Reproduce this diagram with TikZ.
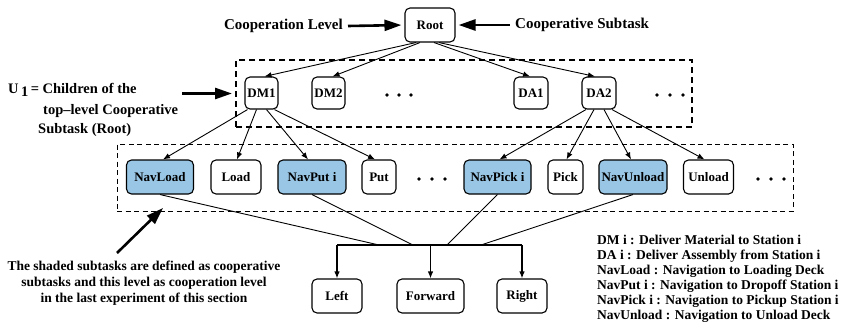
\documentclass[tikz,border=0pt]{standalone}
\usepackage{fontspec}
\setmainfont{Liberation Serif}
\usetikzlibrary{arrows.meta}
\definecolor{coopblue}{RGB}{152,198,228}
\begin{document}
\begin{tikzpicture}[x=1pt,y=-1pt,
  task/.style={draw, line width=1.1pt, rounded corners=5pt, minimum height=33pt, inner sep=0pt,
    font=\fontsize{13}{13}\selectfont\bfseries},
  coop/.style={task, fill=coopblue},
  edge/.style={line width=0.9pt, -{Latex[length=7pt,width=5.5pt]}},
  plain/.style={line width=0.9pt},
  bigarrow/.style={line width=2.6pt, -{Triangle[length=17pt,width=11pt]}},
  lbl/.style={inner sep=0pt, font=\fontsize{15}{15}\selectfont\bfseries},
  note/.style={inner sep=0pt, font=\fontsize{13.5}{15}\selectfont\bfseries},
  dot/.style={fill=black}
]
\useasboundingbox (0,0) rectangle (843,327);

% group boxes
\node (upbox) [draw, line width=2pt, dash pattern=on 6pt off 4pt, minimum width=456pt, minimum height=67pt, inner sep=0pt] at (464,93.5) {};
\node (lowbox) [draw, line width=1pt, dash pattern=on 5pt off 3.5pt, minimum width=676pt, minimum height=67pt, inner sep=0pt] at (455,177.5) {};

% nodes
\node (Root) [task, minimum width=50pt, minimum height=34pt] at (430,25) {Root};
\node (DM1) [task, minimum width=33pt, minimum height=32pt] at (261.5,93) {DM1};
\node (DM2) [task, minimum width=33pt, minimum height=32pt] at (328.5,93) {DM2};
\node (DA1) [task, minimum width=34pt, minimum height=32pt] at (531,93) {DA1};
\node (DA2) [task, minimum width=34pt, minimum height=32pt] at (599,93) {DA2};

\node (NavLoad) [coop, minimum width=67pt, minimum height=34pt] at (160,177) {NavLoad};
\node (Load) [task, minimum width=50pt, minimum height=34pt] at (236,177) {Load};
\node (NavPut) [coop, minimum width=68pt, minimum height=34pt] at (312,177) {NavPut i};
\node (Put) [task, minimum width=34pt, minimum height=34pt] at (379,177) {Put};
\node (NavPick) [coop, minimum width=67pt, minimum height=34pt] at (497.5,177) {NavPick i};
\node (Pick) [task, minimum width=35pt, minimum height=34pt] at (565.5,177) {Pick};
\node (NavUnload) [coop, minimum width=68pt, minimum height=34pt] at (633,177) {NavUnload};
\node (Unload) [task, minimum width=50pt, minimum height=34pt] at (708.5,177) {Unload};

\node (Left) [task, minimum width=50pt, minimum height=34pt] at (337,296) {Left};
\node (Forward) [task, minimum width=67pt, minimum height=34pt] at (430.5,296) {Forward};
\node (Right) [task, minimum width=50pt, minimum height=34pt] at (522,296) {Right};

% dots
\foreach \x in {387,399,411} \fill[dot] (\x,95) circle (1.8pt);
\foreach \x in {657,670,683} \fill[dot] (\x,95) circle (1.8pt);
\foreach \x in {419,432,445} \fill[dot] (\x,179) circle (1.8pt);
\foreach \x in {758,771,784} \fill[dot] (\x,179) circle (1.8pt);

% root edges
\draw[edge] ([xshift=-14pt]Root.south) -- ([xshift=3pt]DM1.north);
\draw[edge] ([xshift=-10pt]Root.south) -- ([xshift=4pt]DM2.north);
\draw[edge] ([xshift=4pt]Root.south) -- ([xshift=-1pt]DA1.north);
\draw[edge] ([xshift=9pt]Root.south) -- ([xshift=-4pt]DA2.north);

% DM1 edges
\draw[edge] ([xshift=-14pt]DM1.south) -- ([xshift=3pt]NavLoad.north);
\draw[edge] ([xshift=-5pt]DM1.south) -- ([xshift=1pt]Load.north);
\draw[edge] ([xshift=5pt]DM1.south) -- ([xshift=-4pt]NavPut.north);
\draw[edge] ([xshift=13pt]DM1.south) -- ([xshift=-4pt]Put.north);

% DA2 edges
\draw[edge] ([xshift=-13pt]DA2.south) -- ([xshift=2pt]NavPick.north);
\draw[edge] ([xshift=-5pt]DA2.south) -- ([xshift=1pt]Pick.north);
\draw[edge] ([xshift=5pt]DA2.south) -- ([xshift=-2pt]NavUnload.north);
\draw[edge] ([xshift=13pt]DA2.south) -- ([xshift=-4pt]Unload.north);

% primitive tree
\coordinate (JL) at (337,245);
\coordinate (J) at (430.5,245);
\coordinate (JR) at (522,245);
\coordinate (m1) at (379,245);
\coordinate (m2) at (413,245);
\coordinate (m3) at (447,245);
\coordinate (m4) at (481,245);
\draw[line width=1.2pt] (JL) -- (JR);
\draw[edge, line width=1.2pt] (JL) -- (Left);
\draw[edge, line width=1.2pt] (J) -- (Forward);
\draw[edge, line width=1.2pt] (JR) -- (Right);
\draw[plain] (NavLoad.south) -- (m1);
\draw[plain] (NavPut.south) -- (m2);
\draw[plain] (NavPick.south) -- (m3);
\draw[plain] (NavUnload.south) -- (m4);

% annotations
\node (coopLevel) [lbl, anchor=east] at (343,26) {Cooperation Level};
\node (coopSub) [lbl, anchor=west] at (515,25) {Cooperative Subtask};
\coordinate (clTail) at (348,26);
\coordinate (csTail) at (510,25);
\draw[bigarrow, shorten >=3pt] (clTail) -- (Root.west);
\draw[bigarrow, shorten >=3pt] (csTail) -- (Root.east);

\node (u1a) [lbl, font=\fontsize{14.5}{15}\selectfont\bfseries, anchor=west] at (8,90) {U\,\raisebox{-0.35ex}{1}\,= Children of the};
\node (u1b) [lbl, font=\fontsize{14.5}{15}\selectfont\bfseries, anchor=west] at (43,111) {top--level Cooperative};
\node (u1c) [lbl, font=\fontsize{14.5}{15}\selectfont\bfseries, anchor=west] at (38,130) {Subtask (Root)};
\coordinate (u1Tail) at (182,93.5);
\draw[bigarrow, shorten >=3pt] (u1Tail) -- (upbox.west);

\node (shaded) [note, font=\fontsize{13.5}{16}\selectfont\bfseries, align=center] at (144,283) {The shaded subtasks are defined as cooperative\\subtasks and this level as cooperation level\\in the last experiment of this section};
\coordinate (shTail) at (117,253);
\coordinate (shHead) at (163,208);
\draw[bigarrow] (shTail) -- (shHead);

\node (legend) [note, align=left, anchor=north west] at (597,235) {DM i : Deliver Material to Station i\\DA i : Deliver Assembly from Station i\\NavLoad : Navigation to Loading Deck\\NavPut i : Navigation to Dropoff Station i\\NavPick i : Navigation to Pickup Station i\\NavUnload : Navigation to Unload Deck};
\end{tikzpicture}
\end{document}
